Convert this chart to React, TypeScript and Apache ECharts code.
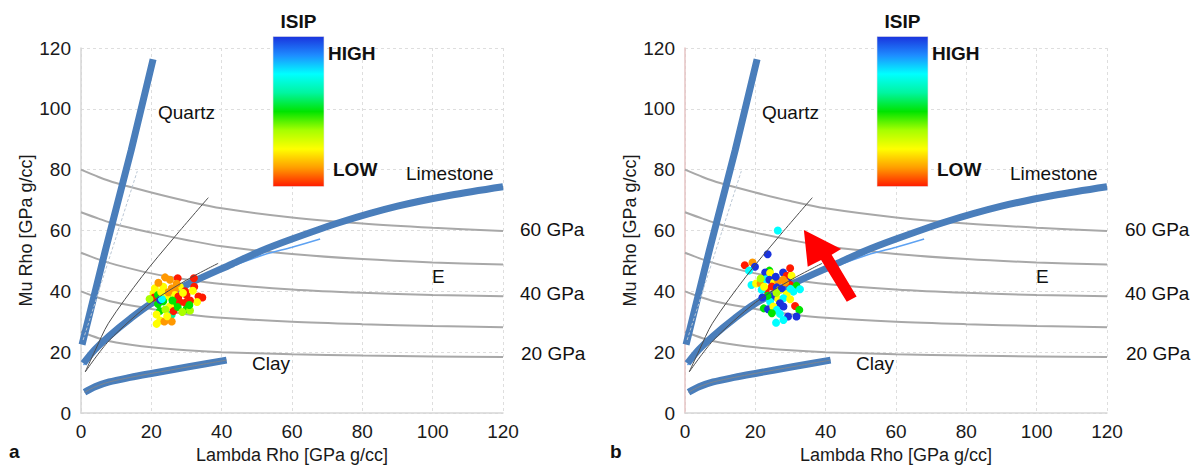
import React, { useEffect, useRef } from "react";
import * as echarts from "echarts";

const FONT = '"Liberation Sans", Arial, Helvetica, sans-serif';

// ---- axis ----
const AXIS_MIN = 0;
const AXIS_MAX = 120;
const AXIS_STEP = 20;

// ---- constant Young's modulus (E) curves: lambda-rho vs mu-rho ----
const eLambda = [0, 5, 10, 20, 30, 40, 60, 80, 100, 120];
const eCurve1 = [80, 77.6, 75.6, 72.5, 69.7, 67.3, 64.3, 62.3, 60.9, 59.8];
const eCurve2 = [66, 63.9, 62.0, 59.3, 56.9, 54.8, 52.3, 50.6, 49.5, 48.8];
const eCurve3 = [52.7, 50.5, 48.7, 45.9, 43.9, 42.4, 40.6, 39.5, 38.8, 38.4];
const eCurve4 = [40, 37.9, 36.3, 34.2, 32.5, 31.3, 30.0, 29.2, 28.6, 28.2];
const eCurve5 = [26.7, 24.6, 23.2, 21.6, 20.6, 20.0, 19.3, 18.9, 18.6, 18.4];

// ---- mineral lines ----
const quartzLambda = [0.3, 7, 14.3, 20.5];
const quartzMu = [22.5, 53.8, 86.5, 116.3];
const quartzInnerLambda = [0.6, 16];
const quartzInnerMu = [24, 79.5];

const limestoneLambda = [0.7, 4, 8, 14, 20, 31, 43, 51, 60, 74, 90, 105, 120];
const limestoneMu = [16.3, 20.9, 25.3, 31.0, 36.0, 42.7, 49.0, 53.2, 57.2, 62.8, 68.0, 71.6, 74.4];

const limestoneThinLambda = [0.7, 10, 20, 31, 43, 52, 60, 68];
const limestoneThinMu = [15.8, 26.8, 35.3, 42.0, 48.2, 52.0, 54.5, 57.2];

const clayLambda = [1, 4, 8, 14, 20, 31, 41.4];
const clayMu = [6.8, 8.6, 10.2, 11.7, 13.0, 15.3, 17.4];

// thin trend lines
const trendALambda = [1.2, 4, 7.8, 17.3, 26.7, 36.2];
const trendAMu = [13.5, 20.5, 29.5, 44.8, 58.0, 70.8];
const trendBLambda = [1.2, 8, 20, 30, 39];
const trendBMu = [13.5, 23.8, 36.3, 43.7, 49.2];

// ---- ISIP scatter (level: 0 = LOW ... 1 = HIGH, -1 = no value) ----
const leftLambda = [
  23.9, 25.3, 27.5, 32.1, 32.2, 21.0, 23.4, 25.8, 28.1, 26.7, 29.6, 20.6, 20.8, 21.9, 24.4,
  26.7, 27.7, 30.0, 33.4, 34.5, 33.0, 21.9, 23.4, 26.7, 28.1, 29.6, 31.0, 25.3, 30.0, 31.0,
  22.4, 25.8, 26.3, 21.5, 22.5, 23.7, 25.8, 21.5, 22.5, 19.5, 24.8, 27.2, 29.0, 24.0, 27.5,
  23.0, 28.8, 30.8, 22.8, 26.0, 24.5, 31.8, 22.0,
];
const leftMu = [
  44.6, 43.8, 44.3, 44.3, 41.5, 41.0, 41.5, 41.0, 41.5, 40.5, 40.0, 39.4, 38.0, 38.8, 38.3,
  38.8, 38.3, 38.8, 38.3, 38.0, 36.5, 35.8, 36.7, 36.2, 36.5, 36.2, 37.0, 35.1, 34.1, 33.7,
  33.5, 32.4, 33.5, 32.4, 30.4, 30.1, 30.1, 29.3, 37.2, 37.5, 39.7, 42.5, 39.5, 34.0, 34.8,
  37.5, 33.2, 35.5, 39.8, 37.0, 31.8, 40.2, 42.8,
];
const leftIsip = [
  0.12, 0.12, 0, 0, 0, 0.25, 0.25, 0.12, 0.25, 0.12, 0, 0.25, 0, 0.5, 0.25,
  0.25, 0, 0, 0, 0, 0.25, 0.5, 0.5, 0.5, 0, 0, 0, 0.25, 0.5, 0.37,
  0.5, 0.62, 0, 0.25, 0.25, 0.12, 0.12, 0.25, 1, 0.37, 0.12, 0.12, 0.25, 0.37, 0.5,
  0.75, 0.37, 0.5, 0.25, 0.5, 0.25, 0.25, 0.12,
];

const rightLambda = [
  26.4, 23.5, 17.0, 19.2, 19.9, 18.2, 29.9, 24.0, 22.8, 24.2, 27.9, 28.9, 30.3, 18.9, 20.2,
  21.5, 23.0, 24.0, 25.3, 26.5, 27.9, 29.3, 29.9, 31.7, 32.7, 23.0, 24.7, 26.1, 27.0, 21.8,
  30.8, 28.9, 25.1, 26.5, 28.0, 29.9, 24.2, 27.0, 22.4, 23.6, 25.1, 26.1, 28.0, 31.3, 32.5,
  27.0, 29.3, 31.7, 28.0, 25.9, 24.7, 21.5, 22.5, 25.8, 27.5, 28.5, 26.0, 23.5, 30.0, 22.0,
];
const rightMu = [
  60.0, 52.2, 48.6, 49.5, 48.1, 46.8, 47.6, 46.8, 46.2, 46.0, 46.2, 45.1, 45.1, 42.1, 42.6,
  42.6, 44.0, 43.8, 42.9, 43.3, 43.8, 42.9, 42.1, 41.8, 40.7, 40.5, 41.6, 41.3, 40.5, 40.5,
  39.9, 39.1, 38.3, 37.4, 37.7, 37.4, 36.6, 36.1, 34.4, 34.1, 35.0, 33.9, 35.0, 35.2, 33.9,
  32.6, 31.7, 31.7, 30.6, 29.7, 32.8, 44.2, 41.5, 44.8, 41.0, 43.0, 39.5, 38.5, 40.8, 38.0,
];
const rightIsip = [
  0.75, 1, 0, 0.12, 1, 0.75, -1, 0.5, 1, 0.25, 1, 0, 0.25, 0.75, 0.25,
  0.12, 0.75, 1, 0.25, 0.12, 0.12, 1, 0, 0.5, 0.75, -1, 0, 1, 0.25, 0.75,
  0.75, 0.25, 1, 0.25, 0.75, 0.25, 0.75, 1, 0.5, 1, 0.25, 0.75, 1, 0, 0.5,
  0.75, 1, 1, 0.75, 0.75, 0.5, 0.37, 0.25, 1, 1, 0.12, 0.37, 0.5, 0.75, 1,
];

// ISIP palette, LOW -> HIGH
const isipPalette = [
  "#ff1a00", "#ff9d00", "#ffff00", "#a6ff00", "#00e400", "#00f5a0", "#00ffff", "#1e8cff", "#1a33dd",
];

// red arrow (right panel), data coordinates
const arrowLambda = [33.8, 44.4, 41.7, 48.8, 46.0, 38.7, 34.9];
const arrowMu = [60.2, 53.9, 52.0, 38.3, 36.6, 50.3, 48.1];

const zip = (xs: number[], ys: number[]) => xs.map((x, i) => [x, ys[i]]);
const zip3 = (xs: number[], ys: number[], zs: number[]) => xs.map((x, i) => [x, ys[i], zs[i]]);

const W = 1199;
const H = 466;

function buildSeries() {
  const series: any[] = [];
  const scatterIdx: number[] = [];
  for (let k = 0; k < 2; k++) {
    const base = { xAxisIndex: k, yAxisIndex: k, symbol: "none", silent: true, animation: false };
    const curve = (xs: number[], ys: number[], lineStyle: any, z: number, smooth = 0.3) => ({
      ...base,
      type: "line",
      data: zip(xs, ys),
      smooth,
      lineStyle,
      z,
    });
    [eCurve1, eCurve2, eCurve3, eCurve4, eCurve5].forEach((c) => {
      series.push(curve(eLambda, c, { color: "#a8a8a8", width: 2 }, 2));
    });
    series.push(curve(quartzLambda, quartzMu, { color: "#4a7ebb", width: 7 }, 3, 0));
    series.push(
      curve(quartzInnerLambda, quartzInnerMu, { color: "#b9c6d4", width: 1, type: [3, 2] }, 4, 0)
    );
    series.push(curve(limestoneLambda, limestoneMu, { color: "#4a7ebb", width: 7 }, 3));
    series.push(curve(limestoneThinLambda, limestoneThinMu, { color: "#5ea2f2", width: 1.5 }, 2.5));
    series.push(curve(clayLambda, clayMu, { color: "#4a7ebb", width: 7 }, 3));
    series.push(curve(clayLambda, clayMu, { color: "#7d8690", width: 1 }, 4));
    scatterIdx.push(series.length);
    series.push({
      type: "scatter",
      xAxisIndex: k,
      yAxisIndex: k,
      data: k === 0 ? zip3(leftLambda, leftMu, leftIsip) : zip3(rightLambda, rightMu, rightIsip),
      symbolSize: 8,
      itemStyle: { opacity: 1 },
      z: 5,
      silent: true,
    });
    series.push(curve(trendALambda, trendAMu, { color: "#4d4d4d", width: 1 }, 6));
    series.push(curve(trendBLambda, trendBMu, { color: "#4d4d4d", width: 1 }, 6));
  }
  series.push({
    type: "custom",
    xAxisIndex: 1,
    yAxisIndex: 1,
    data: [[arrowLambda[0], arrowMu[0]]],
    silent: true,
    z: 7,
    renderItem: (_p: any, api: any) => ({
      type: "polygon",
      shape: { points: arrowLambda.map((x, i) => api.coord([x, arrowMu[i]])) },
      style: { fill: "#ff0000" },
    }),
  });
  return { series, scatterIdx };
}

function axisCommon(k: number, isX: boolean) {
  return {
    gridIndex: k,
    type: "value",
    min: AXIS_MIN,
    max: AXIS_MAX,
    interval: AXIS_STEP,
    axisLine: {
      show: true,
      lineStyle: { color: !isX && k === 1 ? "#e6c4c4" : "#d6d6d6", width: 1.5 },
    },
    axisTick: { show: false },
    axisLabel: { fontSize: 19, color: "#1a1a1a", fontFamily: FONT, margin: isX ? 9 : 10 },
    splitLine: { show: true, lineStyle: { color: "#dedede", type: [3, 3], width: 1 } },
    name: isX ? "Lambda Rho [GPa g/cc]" : "Mu Rho [GPa g/cc]",
    nameLocation: "middle",
    nameGap: isX ? 30 : 33,
    nameTextStyle: { fontSize: 18, color: "#1a1a1a", fontFamily: FONT },
  };
}

function textEl(text: string, x: number, y: number, opts: any = {}) {
  return {
    type: "text",
    x,
    y,
    silent: true,
    z: 20,
    style: {
      text,
      fill: "#111111",
      font: `${opts.bold ? "bold " : ""}${opts.size || 19}px ${FONT}`,
      align: opts.align || "left",
      verticalAlign: "middle",
    },
  };
}

function buildGraphic() {
  const els: any[] = [];
  const stops = isipPalette.map((c, i) => ({ offset: 1 - i / (isipPalette.length - 1), color: c }));
  [0, 604].forEach((dx, k) => {
    els.push({
      type: "rect",
      silent: true,
      z: 10,
      shape: { x: 273 + dx, y: 36.5, width: 51, height: 150 },
      style: {
        fill: new echarts.graphic.LinearGradient(0, 0, 0, 1, stops.slice().reverse()),
        stroke: "#e4e4e4",
        lineWidth: 0.6,
      },
    });
    els.push(textEl("ISIP", 298.5 + dx, 21.5, { bold: true, align: "center" }));
    els.push(textEl("HIGH", 328 + dx, 53.5, { bold: true }));
    els.push(textEl("LOW", 333 + dx, 169.5, { bold: true }));
    els.push(textEl("Quartz", 158 + dx, 112.5));
    els.push(textEl("Limestone", 406 + dx, 173));
    els.push(textEl("60 GPa", 520 + dx + (k ? 1 : 0), 229));
    els.push(textEl("E", 432 + dx, 276));
    els.push(textEl("40 GPa", 520 + dx + (k ? 1 : 0), 293.5));
    els.push(textEl("20 GPa", 521 + dx + (k ? 1 : 0), 353.5));
    els.push(textEl("Clay", 252 + dx, 363));
    els.push(textEl(k ? "b" : "a", k ? 610 : 9, 451, { bold: true }));
  });
  return els;
}

export default function App() {
  const ref = useRef<HTMLDivElement>(null);
  useEffect(() => {
    document.body.style.margin = "0";
    if (!ref.current) return;
    const chart = echarts.init(ref.current, null, { renderer: "svg", width: W, height: H });
    const { series, scatterIdx } = buildSeries();
    chart.setOption({
      animation: false,
      backgroundColor: "#ffffff",
      textStyle: { fontFamily: FONT },
      grid: [
        { left: 81, width: 422, top: 48, height: 365, containLabel: false, outerBoundsMode: "none" },
        { left: 685, width: 422, top: 48, height: 365, containLabel: false, outerBoundsMode: "none" },
      ],
      xAxis: [axisCommon(0, true), axisCommon(1, true)],
      yAxis: [axisCommon(0, false), axisCommon(1, false)],
      visualMap: {
        show: false,
        type: "continuous",
        min: 0,
        max: 1,
        dimension: 2,
        seriesIndex: scatterIdx,
        inRange: { color: isipPalette },
        outOfRange: { color: "#c4c4c4" },
      },
      series,
      graphic: buildGraphic(),
    });
    return () => chart.dispose();
  }, []);
  return (
    <div
      ref={ref}
      style={{ position: "absolute", left: 0, top: 0, width: W, height: H, background: "#fff" }}
    />
  );
}
